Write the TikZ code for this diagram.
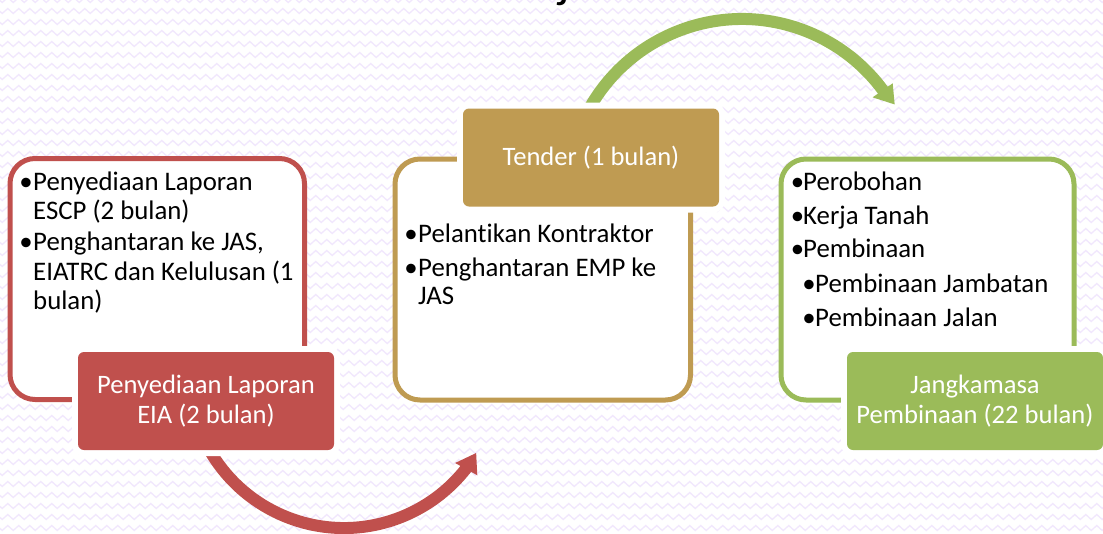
\documentclass[tikz,border=0pt]{standalone}
\usepackage{fontspec}
\setmainfont{Carlito}[Ligatures=NoCommon]
\usetikzlibrary{decorations.pathmorphing}
\definecolor{cred}{HTML}{C0504D}
\definecolor{cgold}{HTML}{BF9B52}
\definecolor{cgreen}{HTML}{9BBB59}
\definecolor{bgline}{HTML}{F1E7FD}
\begin{document}
\begin{tikzpicture}[x=1pt,y=-1pt,
  outlinebox/.style={line width=5pt, rounded corners=25pt, fill=white},
  fillbox/.style={rounded corners=6pt, minimum width=256pt, minimum height=98pt,
    inner sep=0pt, text=white, align=center,
    font=\fontsize{26.6}{29.5}\selectfont, preaction={draw=white, line width=12pt}},
  bodytext/.style={anchor=base west, inner sep=0pt, font=\fontsize{26.8}{29}\selectfont},
  bulletmark/.style={anchor=base, inner sep=0pt, font=\fontsize{26.8}{29}\selectfont},
  shaft/.style={line width=12pt},
]
\useasboundingbox (0,0) rectangle (1103,533);
\fill[white] (0,0) rectangle (1103,533);
% background zigzag pattern
\foreach \r in {0,...,49}
  \draw[bgline, line width=1.3pt, decorate,
        decoration={zigzag, segment length=11pt, amplitude=2.5pt}]
        ({-6},{\r*11}) -- ({1112},{\r*11});
% partial title
\node[anchor=base west, inner sep=0pt, font=\fontsize{48}{48}\selectfont] (title) at (558,-3) {j};
% arc centres
\coordinate (rc) at (344,373);
\coordinate (gc) at (742,194);
% red arrow
\begin{scope}[shift={(rc)}]
  \draw[cred, shaft] (160:155) arc[start angle=160, end angle=37.8, radius=155];
  \fill[cred] (39:143) -- (31.2:154.5) -- (37.5:168) -- cycle;
\end{scope}
% green arrow
\begin{scope}[shift={(gc)}]
  \draw[cgreen, shaft] (200:175) arc[start angle=200, end angle=323.8, radius=175];
  \fill[cgreen] (323.5:162.5) -- (329.6:177) -- (323.7:187) -- cycle;
\end{scope}
% outline boxes
\draw[outlinebox, draw=cred] (10,158.5) rectangle (304.5,399.5);
\draw[outlinebox, draw=cgold] (395,159) rectangle (690.5,400);
\draw[outlinebox, draw=cgreen] (781,159) rectangle (1074,400);
% filled boxes
\node[fillbox, fill=cred] (eia) at (206,401) {Penyediaan Laporan\\EIA (2 bulan)};
\node[fillbox, fill=cgold] (tender) at (591,157.5) {Tender (1 bulan)};
\node[fillbox, fill=cgreen] (bina) at (975,401) {Jangkamasa\\Pembinaan (22 bulan)};
% box 1 text
\node[bulletmark] (b1a) at (26,190) {•};
\node[bodytext] (t1a) at (33,190) {Penyediaan Laporan};
\node[bodytext] (t1b) at (33,219) {ESCP (2 bulan)};
\node[bulletmark] (b1c) at (26,250) {•};
\node[bodytext] (t1c) at (33,250) {Penghantaran ke JAS,};
\node[bodytext] (t1d) at (33,280) {EIATRC dan Kelulusan (1};
\node[bodytext] (t1e) at (33,309) {bulan)};
% box 2 text
\node[bulletmark] (b2a) at (411,242) {•};
\node[bodytext] (t2a) at (418,242) {Pelantikan Kontraktor};
\node[bulletmark] (b2b) at (411,276) {•};
\node[bodytext] (t2b) at (418,276) {Penghantaran EMP ke};
\node[bodytext] (t2c) at (418,304) {JAS};
% box 3 text
\node[bulletmark] (b3a) at (797.5,190) {•};
\node[bodytext] (t3a) at (803,190) {Perobohan};
\node[bulletmark] (b3b) at (797.5,224) {•};
\node[bodytext] (t3b) at (803,224) {Kerja Tanah};
\node[bulletmark] (b3c) at (797.5,257) {•};
\node[bodytext] (t3c) at (803,257) {Pembinaan};
\node[bulletmark] (b3d) at (809,292.5) {•};
\node[bodytext] (t3d) at (815,292.5) {Pembinaan Jambatan};
\node[bulletmark] (b3e) at (809,326) {•};
\node[bodytext] (t3e) at (815,326) {Pembinaan Jalan};
\end{tikzpicture}
\end{document}
